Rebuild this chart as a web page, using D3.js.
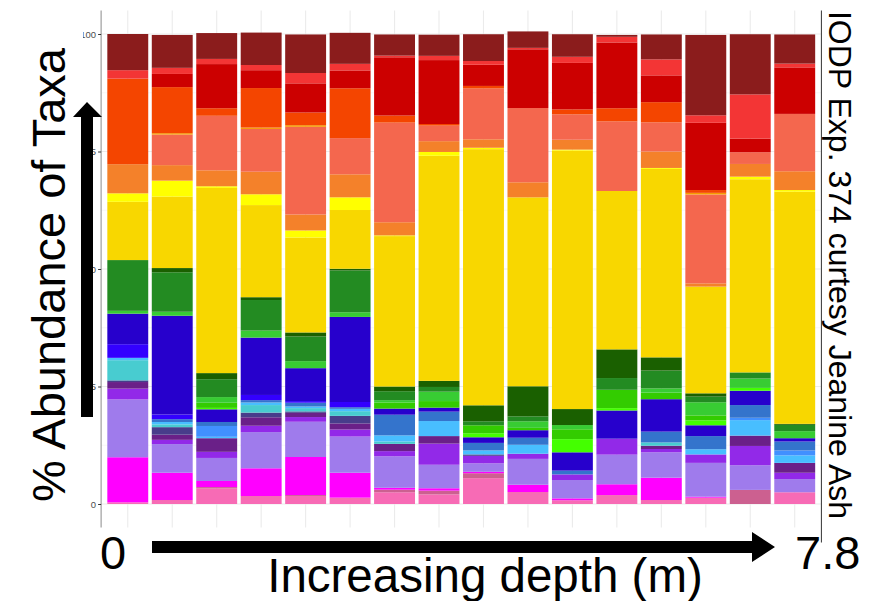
<!DOCTYPE html>
<html>
<head>
<meta charset="utf-8">
<script src="https://cdn.jsdelivr.net/npm/d3@7/dist/d3.min.js"></script>
<style>
  body { margin: 0; background: #fff; }
  svg { display: block; font-family: "Liberation Sans", Arial, sans-serif; }
</style>
</head>
<body>
<svg></svg>
<script>
// samples, shallow -> deep
var samples = ["1","2","3","4","5","6","7","8","9","10","11","12","13","14","15","16"];

// taxa, listed from the top of each bar to the bottom
var taxa = ["darkred","red","crimson","orangered","darkorange","tomato","orange","yellow","gold",
  "darkgreen","forestgreen","limegreen","green3","chartreuse","indigo","blue","steelblue",
  "dodgerblue","lightsky","turquoise","slateblue","purple","blueviolet","mediumpurple",
  "magenta","violetred","hotpink"];
var taxaColors = ["#8B1C1C","#F33535","#CC0000","#F44500","#F59A00","#F4674E","#F4812A","#FFFF00","#F8D700",
  "#1A6000","#238B22","#38CC33","#33CC00","#44FF00","#2700CC","#3300FF","#3474CC",
  "#4190FF","#48BEFF","#48CCD0","#483D8B","#6A2088","#9229E8","#9F7BEC",
  "#FF00FF","#CC6090","#F76BB5"];

// % abundance of each taxon, one value per sample
var darkred      = [7.7,7.0,5.5,6.9,8.2,6.6,4.5,4.5,5.7,3.5,4.8,0.4,5.3,17.1,12.8,6.2];
var red          = [1.8,1.3,1.1,1.1,2.2,1.4,0.35,0.9,0.8,0.3,1.3,1.2,3.4,1.6,9.4,0.8];
var crimson      = [0,2.8,9.4,3.8,6.2,3.8,12.4,13.6,4.5,12.5,9.9,14.0,5.7,14.3,2.9,9.9];
var orangered    = [18.2,9.8,1.6,8.4,2.7,10.6,1.5,0.35,0.55,0,1.05,2.8,4.3,0.6,0,0];
var darkorange   = [0,0.3,0,0.3,0.35,0,0,0,0,0,0,0,0,0.35,0,0];
var tomato       = [0,6.5,11.6,9.1,18.65,7.7,21.2,3.3,10.8,15.8,5.4,14.8,6.2,18.9,2.5,12.2];
var orange       = [6.2,3.3,3.4,4.8,3.4,4.9,2.8,2.3,1.8,3.2,2.1,0,3.5,0.7,2.7,4.0];
var yellow       = [1.8,3.4,0.35,2.3,1.5,2.7,0.15,0.8,0.3,0,0.2,0,0.2,0,0.55,0.35];
var gold         = [12.4,15.2,39.4,19.6,20.2,12.5,32.0,47.9,54.5,40.2,55.0,33.7,40.1,22.7,41.1,49.4];
var darkgreen    = [0,0.9,1.3,0.6,0.85,0.35,1.0,1.3,3.4,6.4,3.4,6.1,2.8,0.7,0,0.2];
var forestgreen  = [10.8,8.4,3.8,6.5,5.25,8.9,1.9,1.0,0.85,1.05,0,2.5,3.8,1.2,1.3,1.35];
var limegreen    = [0.6,0.85,1.2,1.5,1.5,1.0,0.5,2.0,0,1.4,0.9,0,0.9,2.8,2.0,1.5];
var green3       = [0,0,1.1,0,0,0,1.3,1.4,1.7,0.5,2.1,3.9,1.4,1.05,0,0];
var chartreuse   = [0,0,0.3,0,0,0,0,0,0.85,0,2.8,0.5,0,1.05,0.6,0];
var indigo       = [6.5,21.0,2.7,12.2,7.0,18.1,1.3,0.85,1.2,1.6,3.9,6.0,6.9,2.3,3.05,0.7];
var blue         = [2.9,1.0,0,1.1,0.35,1.1,0,0,0,0,0,0,0,0,0,0];
var steelblue    = [0,0.6,0.85,0.5,0.8,0.35,4.4,2.0,1.6,1.5,0.8,0,2.3,2.8,2.7,1.9];
var dodgerblue   = [0,0,2.3,0,0,0,0,0,0,0,0,0,0,0,0.5,1.05];
var lightsky     = [0.5,0.5,0.3,0.55,0.35,0.5,1.3,3.2,0.85,1.9,0,0,0,1.1,3.3,1.6];
var turquoise    = [4.3,0.6,0,1.6,0.7,1.0,0.5,0,0,0,0,0,0.7,0,0,0];
var slateblue    = [0.35,1.6,0,1.0,0.3,1.6,0,0,0.3,0,0,0,0,0,0,0];
var purple       = [1.4,1.1,2.9,1.8,0.9,1.3,1.55,1.6,0,0,0,0,0.7,0,2.2,2.1];
var blueviolet   = [2.3,0.9,1.3,1.35,1.0,1.5,1.1,4.5,1.6,1.1,1.2,3.4,0.7,1.8,4.1,1.35];
var mediumpurple = [12.3,6.1,4.9,7.7,7.5,7.7,6.7,5.0,1.8,5.5,3.9,6.3,5.4,7.2,5.25,2.8];
var magenta      = [9.6,5.8,1.3,5.9,8.1,5.3,0.4,0.5,0.3,1.55,0.4,2.3,4.75,0.2,0,0];
var violetred    = [0,0,0.3,0,0.2,0,0.55,0.8,1.05,0,0,0,0,0,3.0,0];
var hotpink      = [0.35,0.85,3.3,1.7,1.7,1.35,2.5,2.05,5.5,2.55,0.8,1.9,0.85,1.35,0,2.5];

var yTicks = [0, 25, 50, 75, 100];

window.onload = function() {
  var svg = d3.select("svg").attr("width", 869).attr("height", 601);

  var series = {darkred:darkred, red:red, crimson:crimson, orangered:orangered, darkorange:darkorange,
    tomato:tomato, orange:orange, yellow:yellow, gold:gold, darkgreen:darkgreen, forestgreen:forestgreen,
    limegreen:limegreen, green3:green3, chartreuse:chartreuse, indigo:indigo, blue:blue, steelblue:steelblue,
    dodgerblue:dodgerblue, lightsky:lightsky, turquoise:turquoise, slateblue:slateblue, purple:purple,
    blueviolet:blueviolet, mediumpurple:mediumpurple, magenta:magenta, violetred:violetred, hotpink:hotpink};

  // one row per sample
  var rows = samples.map(function(s, i) {
    var r = {sample: s};
    taxa.forEach(function(t) { r[t] = series[t][i]; });
    return r;
  });

  var color = d3.scaleOrdinal().domain(taxa).range(taxaColors);

  var panel = {left: 101.1, right: 821.4, top: 10.5, bottom: 527.5};

  var x = d3.scaleBand()
    .domain(samples)
    .range([panel.left, panel.right])
    .paddingInner(0.08)
    .paddingOuter(0.14);

  var y = d3.scaleLinear()
    .domain([0, 100])
    .range([504, 34]);

  // grid
  var grid = svg.append("g");
  d3.range(12.5, 100, 25).forEach(function(v) {
    grid.append("line").attr("x1", panel.left).attr("x2", panel.right)
      .attr("y1", y(v)).attr("y2", y(v))
      .attr("stroke", "#F2F2F2").attr("stroke-width", 0.6);
  });
  yTicks.forEach(function(v) {
    grid.append("line").attr("x1", panel.left).attr("x2", panel.right)
      .attr("y1", y(v)).attr("y2", y(v))
      .attr("stroke", "#EBEBEB").attr("stroke-width", 1.1);
  });
  samples.forEach(function(s) {
    var cx = x(s) + x.bandwidth() / 2;
    grid.append("line").attr("x1", cx).attr("x2", cx)
      .attr("y1", panel.top).attr("y2", panel.bottom)
      .attr("stroke", "#EBEBEB").attr("stroke-width", 1.1);
  });

  // stacked bars, bottom taxon first
  var stack = d3.stack().keys(taxa.slice().reverse());
  var layers = stack(rows);

  svg.append("g").selectAll("g")
    .data(layers).enter()
    .append("g")
    .attr("fill", function(d) { return color(d.key); })
    .selectAll("rect")
    .data(function(d) { return d; }).enter()
    .append("rect")
    .attr("x", function(d) { return x(d.data.sample); })
    .attr("width", x.bandwidth())
    .attr("y", function(d) { return y(d[1]); })
    .attr("height", function(d) { return Math.max(0, y(d[0]) - y(d[1])); });

  // left axis
  var yAxis = d3.axisLeft(y).tickValues(yTicks).tickSize(3).tickPadding(2);
  var ag = svg.append("g").attr("transform", "translate(" + panel.left + ",0)").call(yAxis);
  ag.select(".domain").attr("d", "M0," + panel.top + "V" + panel.bottom).attr("stroke", "#8A8A8A");
  ag.selectAll(".tick line").attr("stroke", "#333");
  ag.selectAll("text").attr("fill", "#4D4D4D").attr("font-size", 9.5)
    .attr("font-family", "'Liberation Sans', Arial, sans-serif");

  // right border
  svg.append("line").attr("x1", panel.right).attr("x2", panel.right)
    .attr("y1", panel.top).attr("y2", panel.bottom + 15)
    .attr("stroke", "#333").attr("stroke-width", 1);

  // y title with its white backing
  svg.append("rect").attr("x", 0).attr("y", 0).attr("width", 83).attr("height", 530).attr("fill", "#fff");
  svg.append("text")
    .attr("transform", "translate(65,275) rotate(-90)")
    .attr("text-anchor", "middle")
    .attr("font-size", 47)
    .attr("fill", "#000")
    .text("% Abundance of Taxa");

  // vertical arrow
  svg.append("path")
    .attr("d", "M81,417V117H73L87,102L102,117H93V417Z")
    .attr("fill", "#000");

  // horizontal arrow
  svg.append("path")
    .attr("d", "M152,541H752V532L775,547L752,562V553H152Z")
    .attr("fill", "#000");

  svg.append("text").attr("x", 100).attr("y", 569).attr("font-size", 47).text("0");
  svg.append("text").attr("x", 795).attr("y", 569).attr("font-size", 47).text("7.8");
  svg.append("text").attr("x", 485).attr("y", 592).attr("text-anchor", "middle")
    .attr("font-size", 47.5).text("Increasing depth (m)");

  svg.append("text")
    .attr("transform", "translate(829,265) rotate(90)")
    .attr("text-anchor", "middle")
    .attr("font-size", 32)
    .text("IODP Exp. 374 curtesy Jeanine Ash");
};
</script>
</body>
</html>
